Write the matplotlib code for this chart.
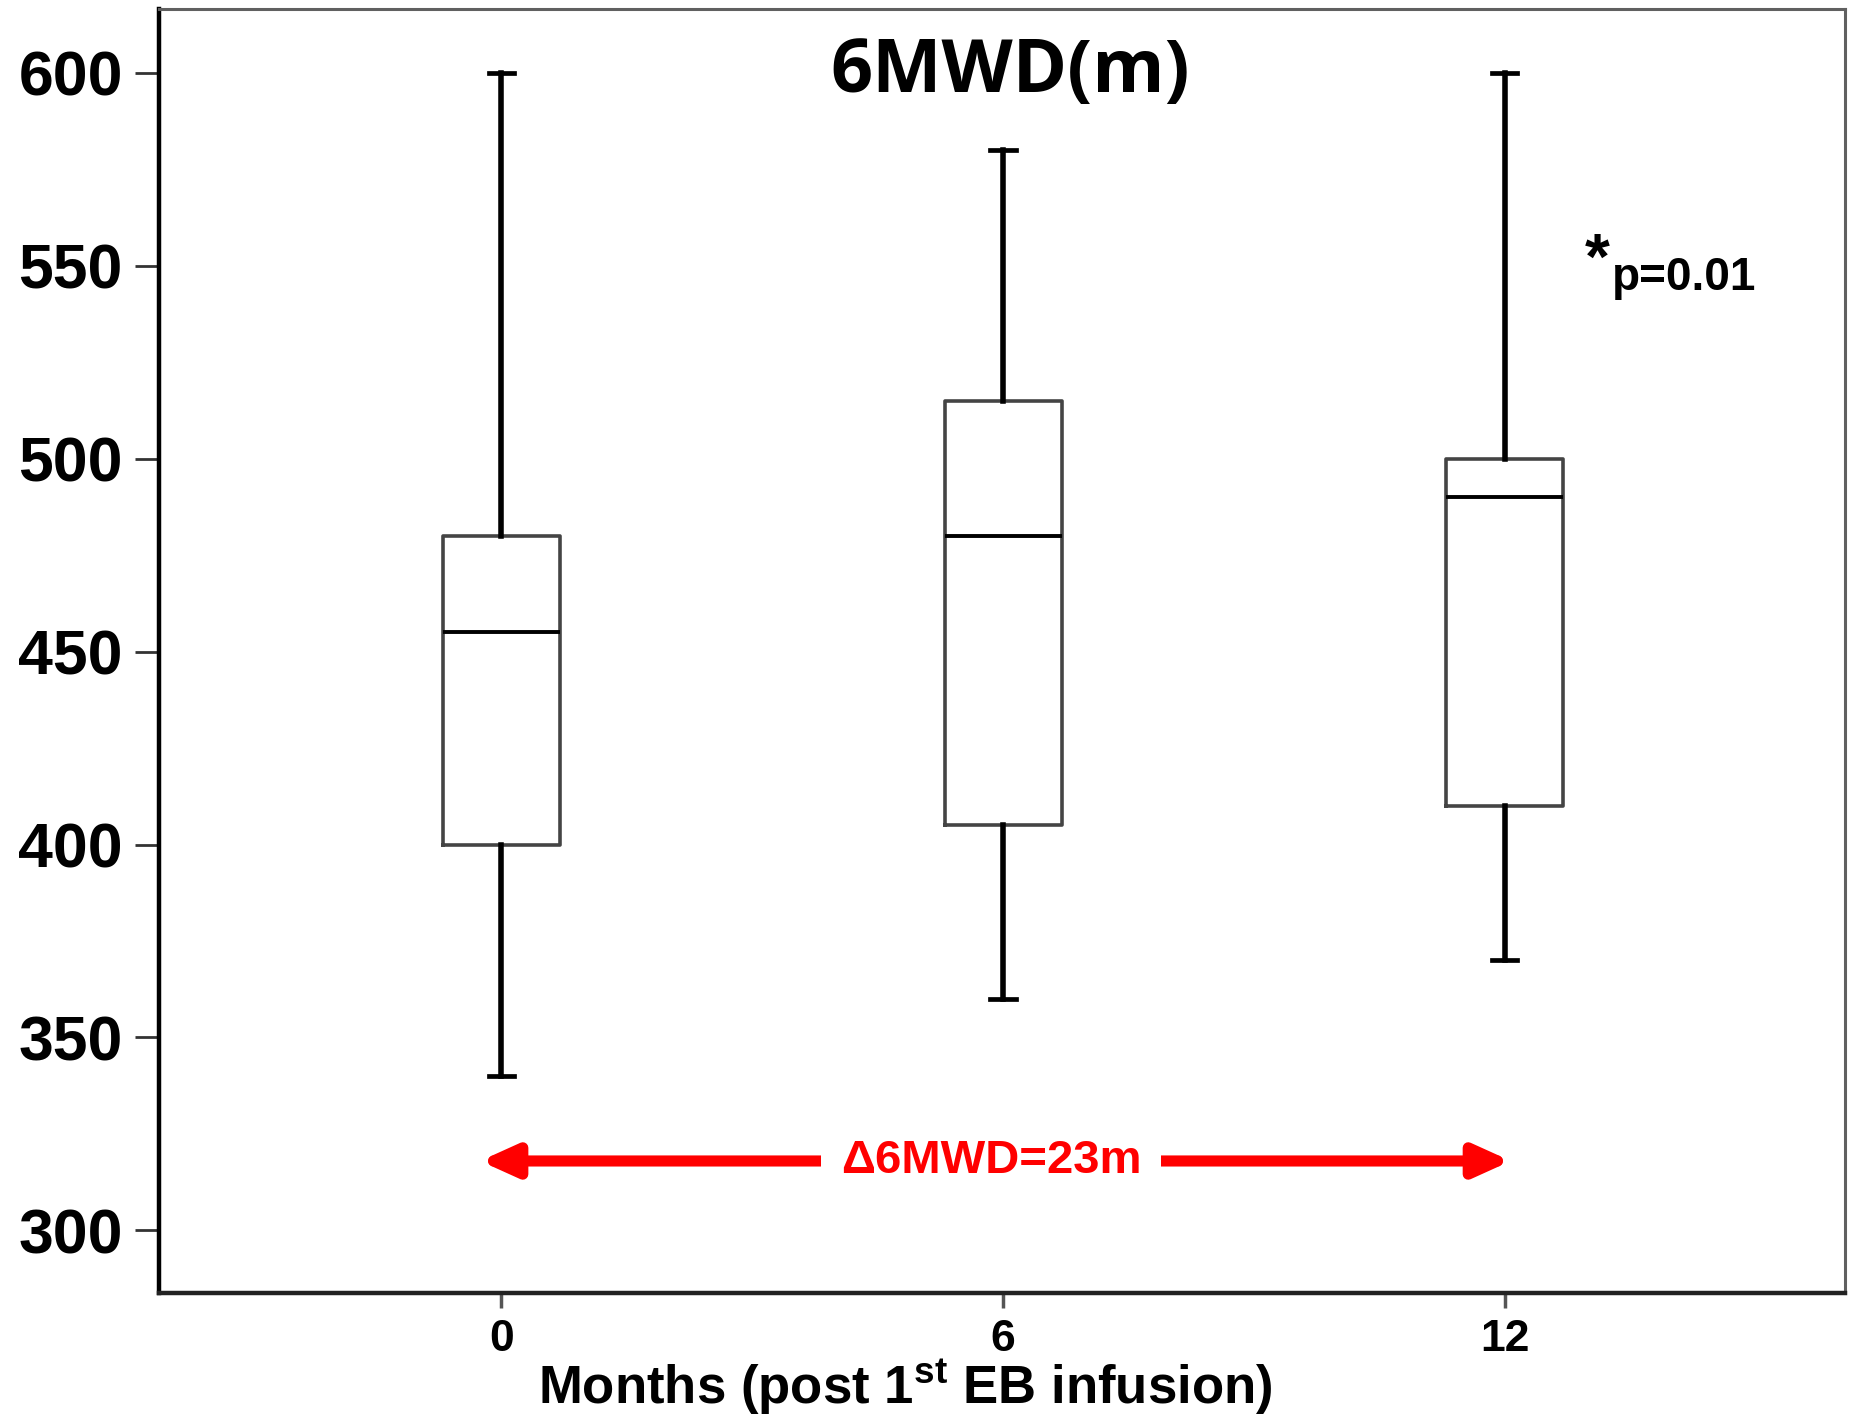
import numpy as np
import matplotlib
matplotlib.use("Agg")
import matplotlib.pyplot as plt

# values (6MWD in metres)
months = ["0", "6", "12"]
whisker_low = [340, 360, 370]
q1 = [400, 405, 410]
median = [455, 480, 490]
q3 = [480, 515, 500]
whisker_high = [600, 580, 600]

yticks = [300, 350, 400, 450, 500, 550, 600]
delta_label = "\u03946MWD=23m"
p_label = "p=0.01"

plt.rcParams["mathtext.fontset"] = "custom"
plt.rcParams["mathtext.bf"] = "Liberation Sans:bold"
plt.rcParams["mathtext.rm"] = "Liberation Sans:bold"

fig = plt.figure(figsize=(18.51, 14.14), dpi=100)
ax = fig.add_axes([0.0859, 0.0856, 0.9109, 0.908])

stats = []
for i in range(len(months)):
    stats.append({"med": median[i], "q1": q1[i], "q3": q3[i],
                  "whislo": whisker_low[i], "whishi": whisker_high[i],
                  "fliers": [], "label": months[i]})

pos = np.arange(len(months))
ax.bxp(stats, positions=pos, widths=0.233, showfliers=False,
       boxprops=dict(color="#444444", linewidth=2.6),
       whiskerprops=dict(color="black", linewidth=4),
       capprops=dict(color="black", linewidth=3.4),
       medianprops=dict(color="black", linewidth=2.8),
       capwidths=0.05)

ax.set_xlim(-0.682, 2.678)
ax.set_ylim(283.8, 616.5)
ax.set_yticks(yticks)
ax.set_yticklabels([str(v) for v in yticks], fontsize=45,
                   fontweight="bold", family="Liberation Sans")
ax.set_xticks(pos)
ax.set_xticklabels(months, fontsize=32, fontweight="bold",
                   family="Liberation Sans")
ax.tick_params(axis="y", length=17, width=2, color="#333333", pad=9)
ax.tick_params(axis="x", length=11, width=2.5, color="#555555", pad=8)

ax.spines["left"].set_linewidth(3.2)
ax.spines["left"].set_color("black")
ax.spines["bottom"].set_linewidth(3.2)
ax.spines["bottom"].set_color("#222222")
ax.spines["top"].set_linewidth(2.2)
ax.spines["top"].set_color("#606060")
ax.spines["right"].set_linewidth(2.2)
ax.spines["right"].set_color("#606060")

ax.set_xlabel(r"Months (post 1$^{\mathbf{st}}$ EB infusion)", fontsize=38,
              fontweight="bold", family="Liberation Sans")
ax.xaxis.set_label_coords(0.4427, -0.0732)
ax.xaxis.label.set_va("center")

ax.text(1.014, 600, "6MWD(m)", ha="center", va="center", fontsize=53,
        fontweight="bold", family="Open Sans")

# significance note
ax.text(2.214, 543.8, p_label, ha="left", va="baseline", fontsize=33,
        fontweight="bold", family="Liberation Sans")
ax.text(2.16, 546.5, "*", ha="left", va="baseline", fontsize=46,
        fontweight="bold", family="Liberation Sans")

# red double arrow with the change label
ax.annotate("", xy=(-0.042, 318), xytext=(2.012, 318),
            arrowprops=dict(arrowstyle="<|-|>,head_length=2.1,head_width=0.95",
                            color="red", lw=8, shrinkA=0, shrinkB=0))
ax.text(0.976, 318, delta_label, ha="center", va="center", fontsize=34,
        fontweight="bold", color="red", family="Liberation Sans",
        bbox=dict(facecolor="white", edgecolor="none", pad=14))

fig.savefig("out.png", dpi=100)
